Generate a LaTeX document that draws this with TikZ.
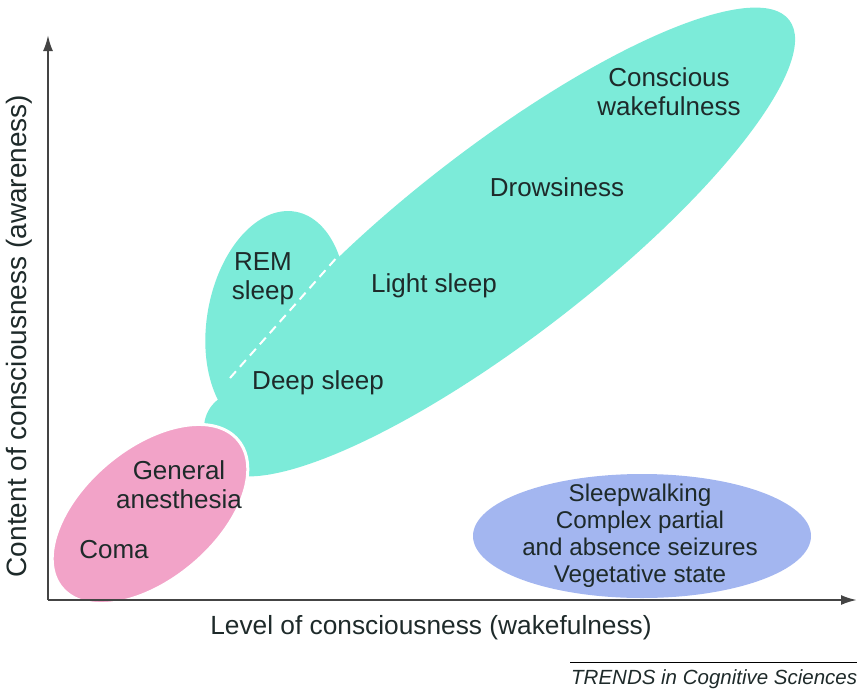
\documentclass[tikz,border=0pt]{standalone}
\usepackage{fontspec}
\setmainfont{Liberation Sans}
\usetikzlibrary{arrows.meta}
\definecolor{tealc}{HTML}{7CEBD9}
\definecolor{pinkc}{HTML}{F2A3C8}
\definecolor{bluec}{HTML}{A3B6F0}
\definecolor{txtc}{HTML}{1E2A2A}
\definecolor{axisc}{HTML}{444444}
\begin{document}
\begin{tikzpicture}[x=1pt,y=-1pt,
  lbl/.style={font=\fontsize{26}{29}\selectfont, text=txtc, align=center, inner sep=0pt},
  axislbl/.style={font=\fontsize{26.3}{29}\selectfont, text=txtc, inner sep=0pt},
  axisline/.style={draw=axisc, line width=2.2pt, -{Latex[length=16pt,width=10pt]}}]
\useasboundingbox (0,0) rectangle (857,691);
% regions
\fill[tealc] (502,242) ellipse [x radius=363, y radius=95, rotate=37.7];
\fill[tealc] (276,322) ellipse [x radius=69, y radius=112, rotate=-10];
\fill[tealc] (240,428) circle [radius=36];
\coordinate (d1) at (230,378);
\coordinate (d2) at (354,238);
\draw[white, line width=2pt, dash pattern=on 9pt off 6pt] (d1) -- (d2);
\filldraw[fill=pinkc, draw=white, line width=3pt] (150,514) ellipse [x radius=115, y radius=66, rotate=40];
\fill[bluec] (642,536) ellipse [x radius=169, y radius=62];
% axes
\coordinate (o) at (48,600);
\coordinate (ytop) at (48,35);
\coordinate (xend) at (857,600);
\draw[axisline] (o) -- (ytop);
\draw[axisline] (o) -- (xend);
% labels
\node[lbl] (cw) at (669,92) {Conscious\\wakefulness};
\node[lbl] (dr) at (557,187) {Drowsiness};
\node[lbl] (rem) at (263,279) {REM\\sleep};
\node[lbl] (ls) at (434,286) {Light sleep};
\node[lbl] (ds) at (318,383) {Deep sleep};
\node[lbl] (ga) at (179,485) {General\\anesthesia};
\node[lbl] (coma) at (114,550) {Coma};
\node[lbl, font=\fontsize{24.2}{27}\selectfont] (blue) at (640,536) {Sleepwalking\\Complex partial\\and absence seizures\\Vegetative state};
\node[axislbl] (xl) at (431,628) {Level of consciousness (wakefulness)};
\node[axislbl, font=\fontsize{28}{30}\selectfont, rotate=90] (yl) at (19,336) {Content of consciousness (awareness)};
% credit
\coordinate (c1) at (570,662);
\coordinate (c2) at (857,662);
\draw[black, line width=1pt] (c1) -- (c2);
\node[font=\fontsize{20.5}{22}\selectfont\itshape, text=txtc, anchor=west, inner sep=0pt] (tr) at (571,679) {TRENDS in Cognitive Sciences};
\end{tikzpicture}
\end{document}
